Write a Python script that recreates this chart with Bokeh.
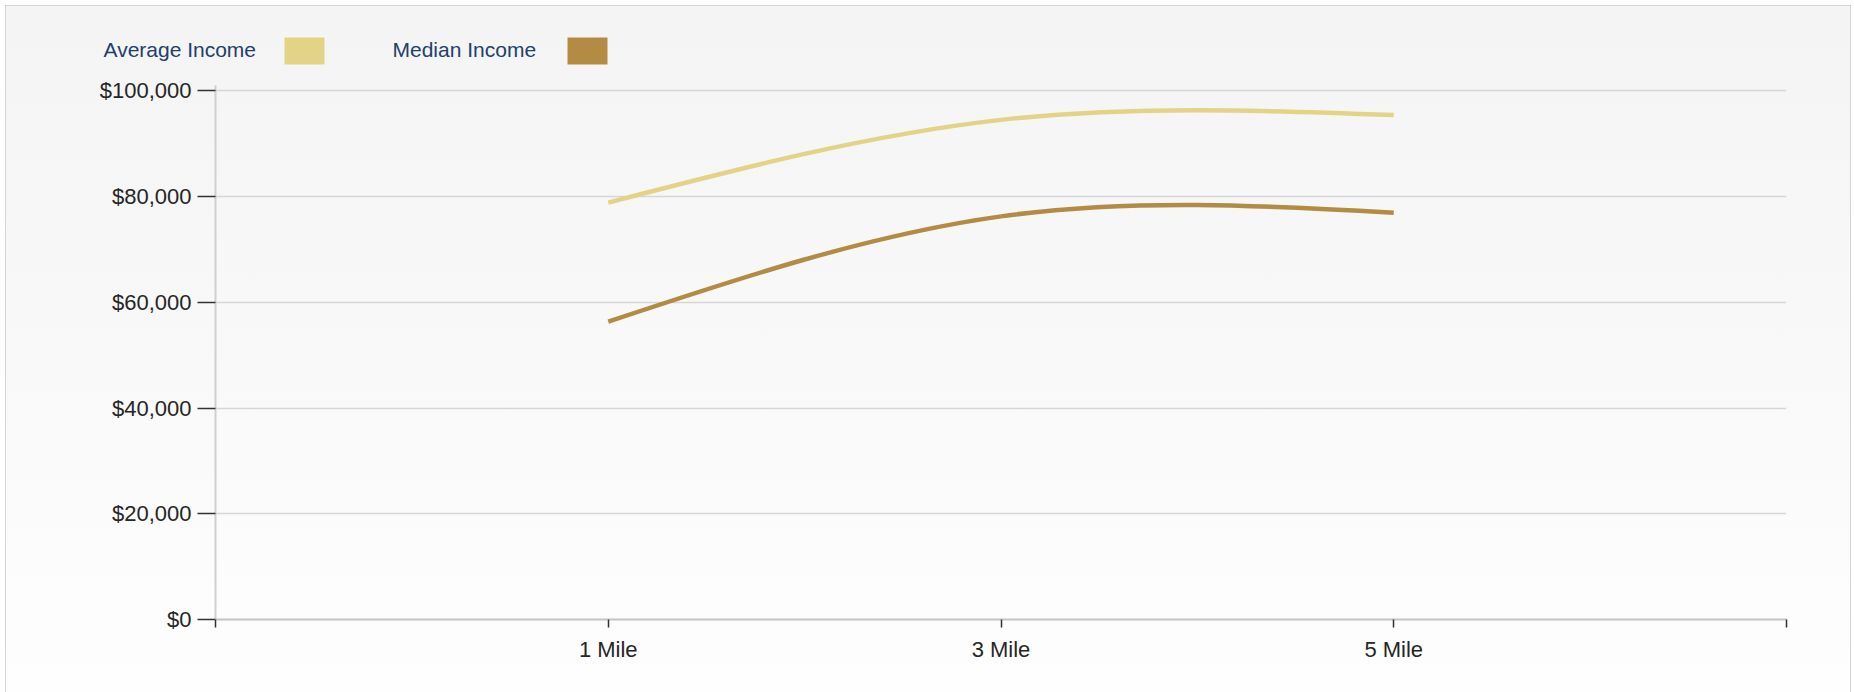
import numpy as np
from bokeh.plotting import figure
from bokeh.layouts import column
from bokeh.models import Range1d, FixedTicker, NumeralTickFormatter
from bokeh.core.properties import value
from bokeh.embed import file_html
from bokeh.resources import INLINE

# ---- data -------------------------------------------------------------
categories = ["1 Mile", "3 Mile", "5 Mile"]
average_income = [78860, 94500, 95400]
median_income = [56330, 76250, 76950]
y_ticks = [0, 20000, 40000, 60000, 80000, 100000]
series_names = ["Average Income", "Median Income"]

AVG_COLOR = "#E3D387"
MED_COLOR = "#B38B43"
TEXT_COLOR = "#262626"
LEGEND_TEXT = "#23406C"
FONT = "Liberation Sans"
EDGE = "#d4d4d4"

W, H = 1854, 692
LEGEND_H = 70
AXIS_L, AXIS_R, Y_TOP_TICK, AXIS_B = 215, 1786, 90, 619

x_pos = list(range(1, len(categories) + 1))
X0, X1 = 0, len(categories) + 1
Y0, Y1 = 0, 101000
# frame top so that the 100,000 gridline sits at Y_TOP_TICK
frame_top = AXIS_B - (Y1 - Y0) / y_ticks[-1] * (AXIS_B - Y_TOP_TICK)


def natural_controls(v):
    """Bezier control points of a natural cubic spline (one coordinate)."""
    v = np.asarray(v, float)
    n = len(v) - 1
    a = np.zeros(n); b = np.zeros(n); r = np.zeros(n)
    a[0], b[0], r[0] = 0, 2, v[0] + 2 * v[1]
    for i in range(1, n - 1):
        a[i], b[i], r[i] = 1, 4, 4 * v[i] + 2 * v[i + 1]
    a[n - 1], b[n - 1], r[n - 1] = 2, 7, 8 * v[n - 1] + v[n]
    for i in range(1, n):
        m = a[i] / b[i - 1]
        b[i] -= m
        r[i] -= m * r[i - 1]
    A = np.zeros(n)
    A[n - 1] = r[n - 1] / b[n - 1]
    for i in range(n - 2, -1, -1):
        A[i] = (r[i] - A[i + 1]) / b[i]
    B = np.zeros(n)
    B[n - 1] = (v[n] + A[n - 1]) / 2
    for i in range(n - 1):
        B[i] = 2 * v[i + 1] - A[i + 1]
    return A, B


def spline(p, xs, ys, color):
    ax, bx = natural_controls(xs)
    ay, by = natural_controls(ys)
    p.bezier(x0=xs[:-1], y0=ys[:-1], x1=xs[1:], y1=ys[1:],
             cx0=list(ax), cy0=list(ay), cx1=list(bx), cy1=list(by),
             line_color=color, line_width=4.5)


# ---- legend strip (pixel coordinates) ------------------------------------
leg = figure(width=W, height=LEGEND_H, output_backend="svg", toolbar_location=None,
             x_range=Range1d(0, W), y_range=Range1d(LEGEND_H, 0),
             x_axis_type=None, y_axis_type=None, min_border=0)
leg.frame_align = False
leg.background_fill_color = None
leg.border_fill_color = None
leg.outline_line_color = None
leg.grid.grid_line_color = None

leg_text_x = [103, 392]
leg_swatch_x = [284, 567]
leg.text(x=leg_text_x, y=[49, 49], text=series_names,
         text_font=value(FONT), text_font_size="21px", text_color=LEGEND_TEXT,
         text_baseline="middle", text_align="left")
leg.quad(left=leg_swatch_x, right=[s + 40 for s in leg_swatch_x],
         top=[37, 37], bottom=[64, 64], fill_color=[AVG_COLOR, MED_COLOR],
         line_color=None)

# ---- main chart -----------------------------------------------------------
p = figure(width=W, height=H - LEGEND_H, output_backend="svg", toolbar_location=None,
           x_range=Range1d(X0, X1), y_range=Range1d(Y0, Y1),
           min_border_left=AXIS_L, min_border_right=W - AXIS_R,
           min_border_top=int(round(frame_top - LEGEND_H)), min_border_bottom=H - AXIS_B)
p.frame_align = False
p.background_fill_color = None
p.border_fill_color = None
p.outline_line_color = None

# y axis
yax = p.yaxis[0]
yax.ticker = FixedTicker(ticks=y_ticks)
yax.formatter = NumeralTickFormatter(format="$0,0")
yax.axis_line_color = "#cfcfcf"
yax.axis_line_width = 2
yax.major_tick_line_color = "#333333"
yax.major_tick_line_width = 1.5
yax.major_tick_out = 18
yax.major_tick_in = 0
yax.minor_tick_line_color = None
yax.major_label_standoff = 6
yax.major_label_text_font = FONT
yax.major_label_text_font_size = "22px"
yax.major_label_text_color = TEXT_COLOR

# x axis
xax = p.xaxis[0]
xax.ticker = FixedTicker(ticks=list(range(X0, X1 + 1)))
overrides = {t: "" for t in range(X0, X1 + 1)}
overrides.update({x: c for x, c in zip(x_pos, categories)})
xax.major_label_overrides = overrides
xax.axis_line_color = "#c4c4c4"
xax.axis_line_width = 2
xax.major_tick_line_color = "#333333"
xax.major_tick_line_width = 1.5
xax.major_tick_out = 8
xax.major_tick_in = 0
xax.minor_tick_line_color = None
xax.major_label_standoff = 9
xax.major_label_text_font = FONT
xax.major_label_text_font_size = "22px"
xax.major_label_text_color = TEXT_COLOR

p.xgrid.grid_line_color = None
p.ygrid.ticker = FixedTicker(ticks=y_ticks)
p.ygrid.grid_line_color = "#d6d6d6"
p.ygrid.grid_line_width = 1.5

spline(p, x_pos, average_income, AVG_COLOR)
spline(p, x_pos, median_income, MED_COLOR)

# page: soft vertical gradient framed by thin lines on the top, left and right
edge = f"linear-gradient({EDGE},{EDGE})"
page = column(leg, p, spacing=0)
page.styles = {"background": ", ".join([
    f"{edge} 5px 5px / {W - 8}px 1px no-repeat",
    f"{edge} 5px 5px / 1px {H - 5}px no-repeat",
    f"{edge} {W - 4}px 5px / 1px {H - 5}px no-repeat",
    f"linear-gradient(to bottom, #f4f4f4 0%, #f9f9f9 55%, #fefefe 100%) 6px 6px / {W - 10}px {H - 6}px no-repeat",
    "#ffffff",
])}

open("out.html", "w").write(file_html(page, INLINE))
